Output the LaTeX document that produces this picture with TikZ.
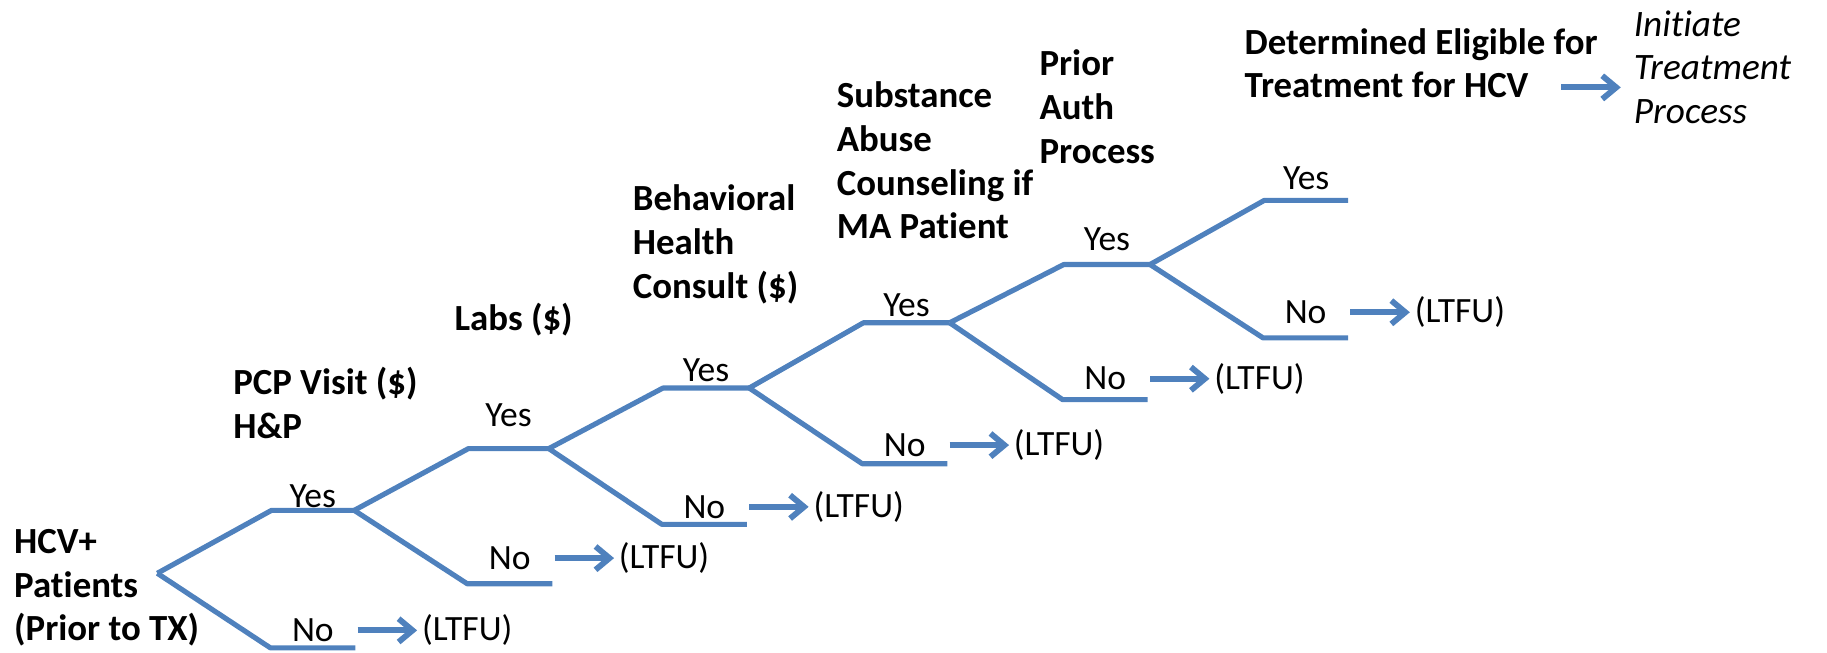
\documentclass[tikz,border=0pt]{standalone}
\usepackage{fontspec}
\setmainfont{Carlito}[Ligatures=NoCommon]
\usetikzlibrary{arrows.meta,calc,positioning}
\definecolor{hcvblue}{RGB}{79,129,189}
\tikzset{
	branch/.style = {line width=4.4pt, draw=hcvblue, line join=round},
	flow/.style = {line width=5pt, draw=hcvblue,
		-{Straight Barb[length=12pt,width=20pt]}},
	lbl/.style = {inner sep=0pt, font=\fontsize{30.5}{37.5}\selectfont},
	head/.style = {inner sep=0pt, align=left, anchor=base west,
		font=\fontsize{31.6}{37.5}\selectfont\bfseries}
}
\begin{document}
\begin{tikzpicture}[x=1pt,y=-1pt]
\useasboundingbox (0,0) rectangle (1568,560);
% branching points and segment ends
\foreach \i/\x/\y/\yn/\ny in {0/135/492/438/556, 1/304/438/385/501,
	2/471/385/333/450, 3/643/333/277/398, 4/815/277/227/343, 5/987/227/172/290}
{
	\coordinate (v\i) at (\x,\y);
	\coordinate (ya\i) at (\x+98,\yn);
	\coordinate (na\i) at (\x+97,\ny);
	\coordinate (nb\i) at (\x+170,\ny);
}
\coordinate (v6) at (1157,172);
% yes / no branches
\foreach \i/\j/\dy/\dn in {0/1/12/15, 1/2/29/22, 2/3/15/15, 3/4/15/16,
	4/5/22/18, 5/6/19/22}
{
	\draw[branch] (v\i) -- (ya\i) -- (v\j);
	\draw[branch] (v\i) -- (na\i) -- (nb\i);
	\node[lbl] (yes\i) at ($(ya\i)!0.5!(v\j)+(0,-\dy)$) {Yes};
	\node[lbl] (no\i) at ($(na\i)!0.5!(nb\i)+(0,-\dn)$) {No};
	\coordinate (ar\i) at ($(nb\i)+(2,-\dn)$);
	\node[lbl, anchor=west] (ltfu\i) at ($(nb\i)+(57,-\dn)$) {(LTFU)};
	\draw[flow] (ar\i) -- ([xshift=-4pt]ltfu\i.west);
}
% step headings (placed at the baseline of their last line)
\node[head] (hcv) at (12,550) {HCV+\\Patients\\(Prior to TX)};
\node[head] (pcp) at (200,376) {PCP Visit (\$)\\H\&P};
\node[head] (labs) at (390,284) {Labs (\$)};
\node[head] (behav) at (543,256) {Behavioral\\Health\\Consult (\$)};
\node[head] (subst) at (718,205) {Substance\\Abuse\\Counseling if\\MA Patient};
\node[head] (auth) at (892,140) {Prior\\Auth\\Process};
\node[head] (elig) at (1068,84) {Determined Eligible for\\Treatment for HCV};
\node[lbl, align=left, anchor=base west, font=\fontsize{32}{37.5}\selectfont\itshape]
	(init) at (1402,106) {Initiate\\Treatment\\Process};
\coordinate (go) at (1340,75);
\coordinate (goend) at (1391,75);
\draw[flow] (go) -- (goend);
\end{tikzpicture}
\end{document}
